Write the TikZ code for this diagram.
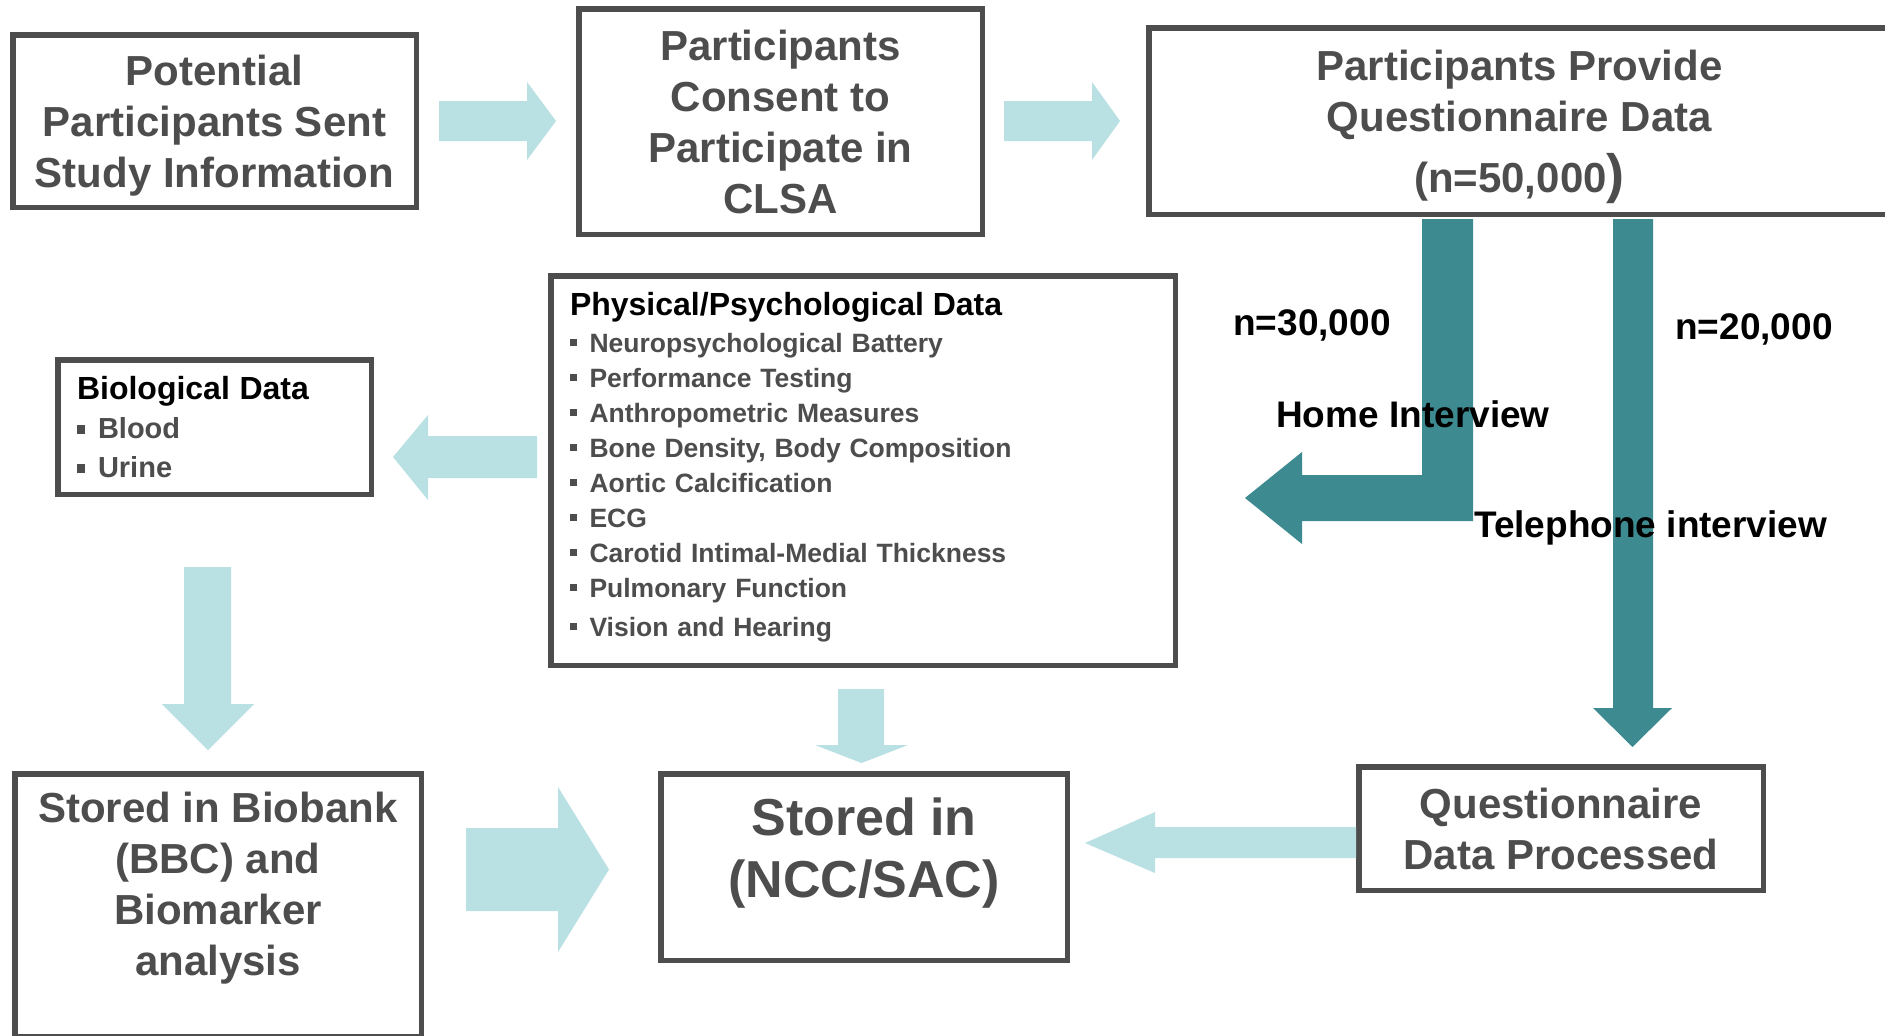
\documentclass[tikz,border=0pt]{standalone}
\usepackage{fontspec}
\setmainfont{Liberation Sans}
\definecolor{lblue}{HTML}{B9E0E3}
\definecolor{tealarr}{HTML}{3D8B90}
\definecolor{bord}{HTML}{4D4D4D}
\definecolor{txtgray}{HTML}{4D4D4D}
\newcommand\bulA{\rule[5pt]{8pt}{8.5pt}\hspace{13pt}}
\newcommand\bulB{\rule[6pt]{6.5pt}{7pt}\hspace{13pt}}
\tikzset{
  box/.style={draw=bord, line width=5.5pt, fill=white, inner sep=0pt, outer sep=0pt,
    text=txtgray, font=\bfseries\fontsize{42}{51}\selectfont, align=center},
  lbarrow/.style={fill=lblue, draw=none},
  tarrow/.style={fill=tealarr, draw=none},
  lbl/.style={text=black, font=\bfseries\fontsize{37}{44}\selectfont, inner sep=0pt, anchor=base west},
}
\begin{document}
\begin{tikzpicture}[x=1pt,y=-1pt]
\useasboundingbox (0,0) rectangle (1885,1036);
\clip (0,0) rectangle (1885,1036);
\fill[white] (0,0) rectangle (1885,1036);

% boxes
\node[box, minimum width=403.5pt, minimum height=172.5pt, text depth=0pt] (sent) at (214.5,121)
  {Potential\\Participants Sent\\Study Information};
\node[box, minimum width=403.5pt, minimum height=225.5pt] (consent) at (780.5,121.5)
  {Participants\\Consent to\\Participate in\\CLSA};
\node[box, minimum width=741.25pt, minimum height=186.5pt, text depth=0pt] (provide) at (1519.4,121)
  {Participants Provide\\Questionnaire Data\\[10pt](n=50,000{\fontsize{54}{60}\selectfont)}};
\node[box, minimum width=313.5pt, minimum height=134.5pt, align=left, text width=275pt,
  font=\bfseries\fontsize{29}{39}\selectfont, text depth=78pt] (bio) at (214.5,427)
  {{\color{black}\fontsize{32}{39}\selectfont Biological Data}\\
   \bulA Blood\\
   \bulA Urine};
\node[box, minimum width=624.5pt, minimum height=389.5pt, align=left, text width=586pt,
  font=\bfseries\fontsize{26.5}{35}\selectfont, text depth=334pt] (phys) at (863,470.5)
  {{\color{black}\fontsize{32}{38}\selectfont Physical/Psychological Data}\\[2pt]
   \bulB Neuropsychological Battery\\
   \bulB Performance Testing\\
   \bulB Anthropometric Measures\\
   \bulB Bone Density, Body Composition\\
   \bulB Aortic Calcification\\
   \bulB ECG\\
   \bulB Carotid Intimal-Medial Thickness\\
   \bulB Pulmonary Function\\[4pt]
   \bulB Vision and Hearing};
\node[box, minimum width=406.5pt, minimum height=263pt, text depth=42pt] (biobank) at (218,905.25)
  {Stored in Biobank\\(BBC) and\\Biomarker\\analysis};
\node[box, minimum width=406.5pt, minimum height=186.5pt, font=\bfseries\fontsize{52}{62}\selectfont,
  text depth=38pt] (ncc) at (864,867)
  {Stored in\\(NCC/SAC)};
\node[box, minimum width=404.5pt, minimum height=123.5pt, text depth=0pt] (qproc) at (1561,828.5)
  {Questionnaire\\Data Processed};

% light blue block arrows
\fill[lbarrow] (439,101) -- (527,101) -- (527,82) -- (556,121) -- (527,160) -- (527,141) -- (439,141) -- cycle;
\fill[lbarrow] (1004,101) -- (1092,101) -- (1092,82) -- (1120,121) -- (1092,160) -- (1092,141) -- (1004,141) -- cycle;
\fill[lbarrow] (537,436) -- (428,436) -- (428,415) -- (393,457) -- (428,500) -- (428,478) -- (537,478) -- cycle;
\fill[lbarrow] (184,567) -- (231,567) -- (231,704) -- (254,704) -- (208,750) -- (162,704) -- (184,704) -- cycle;
\fill[lbarrow] (466,828) -- (558,828) -- (558,787) -- (609,869.5) -- (558,952) -- (558,911) -- (466,911) -- cycle;
\fill[lbarrow] (838,689) -- (884,689) -- (884,745) -- (908,745) -- (861.5,763) -- (815,745) -- (838,745) -- cycle;
\fill[lbarrow] (1356,827) -- (1155,827) -- (1155,812) -- (1085,843) -- (1155,873) -- (1155,858) -- (1356,858) -- cycle;

% teal arrows
\fill[tarrow] (1422,219) -- (1473,219) -- (1473,521) -- (1302,521) -- (1302,544) -- (1245,498)
  -- (1302,452) -- (1302,475) -- (1422,475) -- cycle;
\fill[tarrow] (1613,219) -- (1653,219) -- (1653,708) -- (1672,708) -- (1632.5,747) -- (1593,708) -- (1613,708) -- cycle;

% labels
\node[lbl] (n30) at (1233,335) {n=30,000};
\node[lbl] (n20) at (1675,339) {n=20,000};
\node[lbl] (home) at (1276,427) {Home Interview};
\node[lbl] (tel) at (1474,537.5) {Telephone interview};
\end{tikzpicture}
\end{document}
